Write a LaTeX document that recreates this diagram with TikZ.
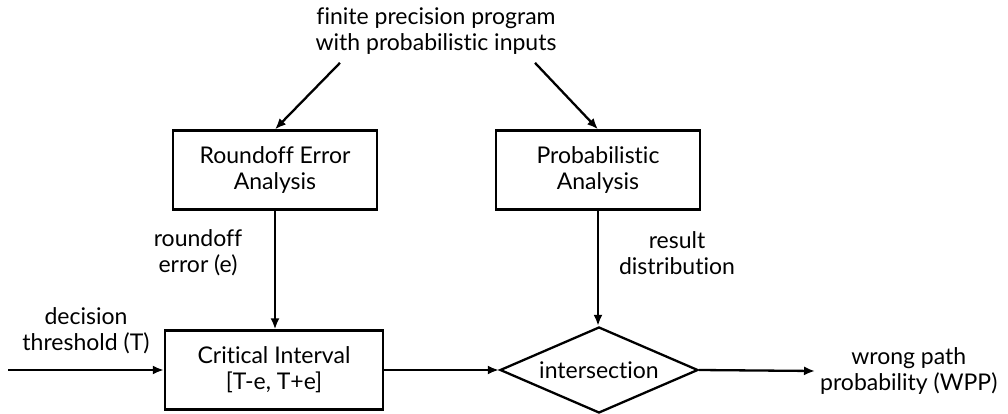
\documentclass[tikz,border=0pt]{standalone}
\usepackage{fontspec}
\setmainfont{Lato}[Ligatures=NoCommon]
\usetikzlibrary{arrows.meta,positioning,shapes.geometric}

\begin{document}
\begin{tikzpicture}[
    x=1pt, y=-1pt,
    line width=2.3pt,
    every node/.style={font=\fontsize{23}{26}\selectfont, align=center},
    procbox/.style={draw, rectangle, minimum width=204pt, minimum height=79pt, inner sep=0},
    decide/.style={draw, diamond, aspect=2.3, minimum width=198pt, minimum height=86pt, inner sep=0},
    flow/.style={-{Latex[length=11pt,width=9pt]}}]
\useasboundingbox (0,0) rectangle (1008,414);

\node (src) at (436,31) {finite precision program\\with probabilistic inputs};
\node[procbox] (round) at (275,170) {Roundoff Error\\Analysis};
\node[procbox] (prob) at (598,170) {Probabilistic\\Analysis};
\node[procbox, minimum width=218pt] (crit) at (274,370) {Critical Interval\\{}[T-e, T+e]};
\node[decide] (inter) at (599,370) {intersection};
\node (thr) at (86,331) {decision\\threshold (T)};
\coordinate (thrin) at (8,370);
\node (err) at (198,253) {roundoff\\error (e)};
\node (dist) at (677,253) {result\\distribution};
\node[anchor=west, inner sep=4pt] (wpp) at (815,371) {wrong path\\probability (WPP)};

% connectors
\draw[flow] ([xshift=-96pt,yshift=-4pt]src.south) -- (round.north);
\draw[flow] ([xshift=99pt,yshift=-4pt]src.south) -- (prob.north);
\draw[flow] (round.south) -- (round.south |- crit.north);
\draw[flow] (prob.south) -- (prob.south |- inter.north);
\draw[flow] (thrin) -- (crit.west);
\draw[flow] (crit.east) -- (inter.west);
\draw[flow] (inter.east) -- (wpp.west);

\end{tikzpicture}
\end{document}
